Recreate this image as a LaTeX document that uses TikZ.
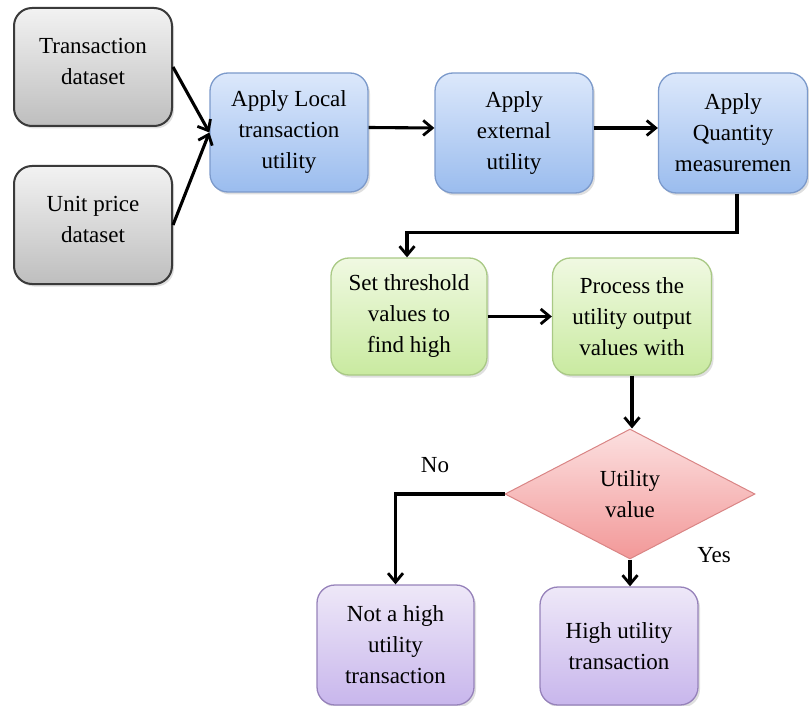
\documentclass[tikz,border=0pt]{standalone}
\usepackage{fontspec}
\setmainfont{Liberation Serif}
\usetikzlibrary{arrows.meta,shapes.geometric,calc,shadows}
\definecolor{grayT}{HTML}{F2F2F2}\definecolor{grayB}{HTML}{BEBEBE}\definecolor{grayD}{HTML}{3A3A3A}
\definecolor{blueT}{HTML}{DCE8FB}\definecolor{blueB}{HTML}{9ABCEE}\definecolor{blueD}{HTML}{7C9ACB}
\definecolor{greenT}{HTML}{F0F9E2}\definecolor{greenB}{HTML}{C9EAA0}\definecolor{greenD}{HTML}{A9C985}
\definecolor{pinkT}{HTML}{FCE0E0}\definecolor{pinkB}{HTML}{F29898}\definecolor{pinkD}{HTML}{D98585}
\definecolor{purpT}{HTML}{EEE8F8}\definecolor{purpB}{HTML}{C8B6EC}\definecolor{purpD}{HTML}{9682BA}
\begin{document}
\begin{tikzpicture}[x=1pt,y=-1pt,
  every node/.style={font=\fontsize{23}{31}\selectfont, align=center, inner sep=0pt},
  box/.style={rectangle, rounded corners=18pt, line width=1.3pt,
    drop shadow={shadow xshift=2pt, shadow yshift=-2.5pt, opacity=0.25}},
  graybox/.style={box, draw=grayD, line width=2pt, top color=grayT, bottom color=grayB},
  bluebox/.style={box, draw=blueD, top color=blueT, bottom color=blueB},
  greenbox/.style={box, draw=greenD, top color=greenT, bottom color=greenB},
  purpbox/.style={box, draw=purpD, top color=purpT, bottom color=purpB},
  decision/.style={diamond, aspect=1.9, draw=pinkD, line width=1pt, top color=pinkT, bottom color=pinkB},
  flow/.style={line width=3.1pt, -{Straight Barb[length=9pt,width=15pt,line width=2.8pt]}},
  lbl/.style={font=\fontsize{23}{26}\selectfont}
]
\useasboundingbox (0,0) rectangle (809,706);
\node[graybox, minimum width=158pt, minimum height=118pt,
  label={[yshift=6pt]center:Transaction\\dataset}] (g1) at (93,67) {};
\node[graybox, minimum width=158pt, minimum height=118pt,
  label={[yshift=6pt]center:Unit price\\dataset}] (g2) at (93,225) {};
\node[bluebox, minimum width=158pt, minimum height=119pt] (b1) at (289,132.5) {Apply Local\\transaction\\utility};
\node[bluebox, minimum width=158pt, minimum height=120pt] (b2) at (514,133) {Apply\\external\\utility};
\node[bluebox, minimum width=149pt, minimum height=120pt] (b3) at (733,133) {Apply\\Quantity\\measuremen};
\node[greenbox, minimum width=156pt, minimum height=117pt] (gr1) at (409,316.5) {Set threshold\\values to\\find high};
\node[greenbox, minimum width=159pt, minimum height=117pt] (gr2) at (632,316.5) {Process the\\utility output\\values with};
\node[decision, minimum width=250pt, minimum height=130pt] (d) at (630,494) {Utility\\value};
\node[purpbox, minimum width=157pt, minimum height=120pt] (nh) at (395.5,645) {Not a high\\utility\\transaction};
\node[purpbox, minimum width=158pt, minimum height=118pt] (hu) at (619,646) {High utility\\transaction};
\node[lbl] (no) at (435,465) {No};
\node[lbl] (yes) at (714,555) {Yes};
\draw[flow] (g1.east) -- (b1.west);
\draw[flow] (g2.east) -- (b1.west);
\draw[flow] ($(b1.east)+(0,-5)$) -- ($(b2.west)+(0,-5)$);
\draw[flow] ($(b2.east)+(0,-5)$) -- ($(b3.west)+(0,-5)$);
\draw[flow] ($(b3.south)+(4,0)$) -- ++(0,39) -| ($(gr1.north)+(-2,0)$);
\draw[flow] (gr1.east) -- (gr2.west);
\draw[flow] (gr2.south) -- (gr2.south |- d.north);
\draw[flow] (d.west) -| (nh.north);
\draw[flow] (d.south) -- (d.south |- hu.north);
\end{tikzpicture}
\end{document}
